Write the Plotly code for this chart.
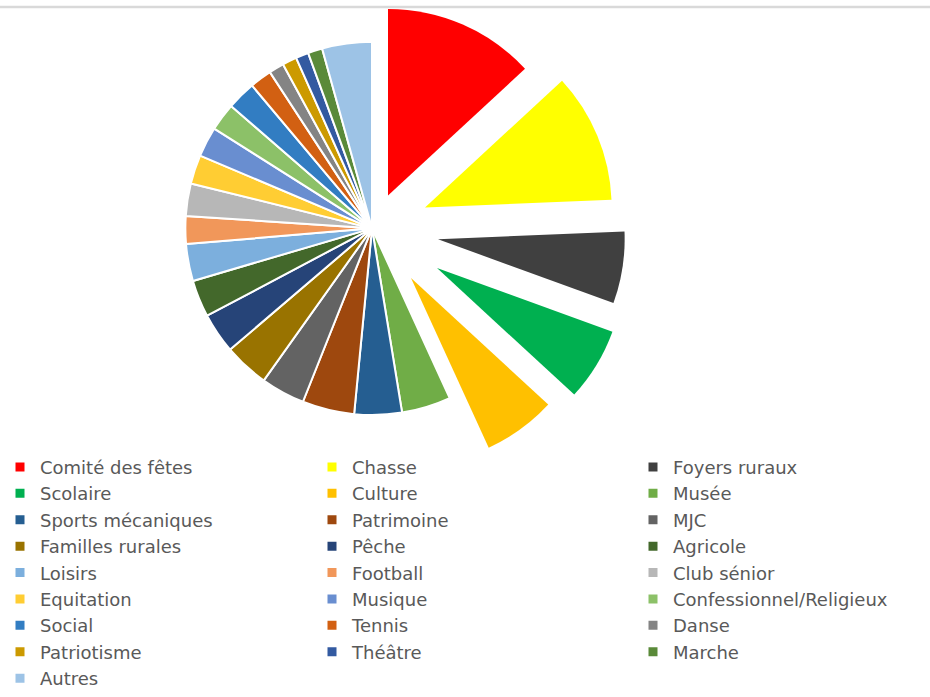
import plotly.graph_objects as go

labels = [
    "Comité des fêtes", "Chasse", "Foyers ruraux", "Scolaire", "Culture",
    "Musée", "Sports mécaniques", "Patrimoine", "MJC", "Familles rurales",
    "Pêche", "Agricole", "Loisirs", "Football", "Club sénior", "Equitation",
    "Musique", "Confessionnel/Religieux", "Social", "Tennis", "Danse",
    "Patriotisme", "Théâtre", "Marche", "Autres",
]
values = [
    13.1, 11.2, 6.2, 6.3, 6.3,
    4.25, 4.1, 4.5, 3.8, 3.9,
    3.5, 3.2, 3.2, 2.4, 2.8, 2.5,
    2.6, 2.4, 2.5, 1.9, 1.3,
    1.25, 1.1, 1.25, 4.3,
]
colors = [
    "#FF0000", "#FFFF00", "#404040", "#00B050", "#FFC000",
    "#70AD47", "#255E91", "#9E480E", "#636363", "#997300",
    "#264478", "#43682B", "#7CAFDD", "#F1975A", "#B7B7B7", "#FFCD33",
    "#698ED0", "#8CC168", "#327DC2", "#D26012", "#848484",
    "#CC9A00", "#335AA1", "#5A8A39", "#9DC3E6",
]

# exploded slices: index -> pixel centre of the pulled-out wedge
W, H = 930, 697
R = 188
CENTER = (372, 230)
exploded = {0: (388, 197), 1: (425, 209), 2: (438, 241), 3: (437, 270), 4: (411, 280)}


def domain(cx, cy):
    return dict(x=[(cx - R) / W, (cx + R) / W], y=[(H - cy - R) / H, (H - cy + R) / H])


clear = "rgba(0,0,0,0)"
n = len(labels)
fig = go.Figure()

# pie body (exploded slices left empty here)
fig.add_trace(go.Pie(
    labels=labels, values=values, sort=False, direction="clockwise", rotation=0,
    marker=dict(colors=[clear if i in exploded else colors[i] for i in range(n)],
                line=dict(color="white", width=[0 if i in exploded else 2 for i in range(n)])),
    textinfo="none", domain=domain(*CENTER), showlegend=False,
))

# the pulled-out wedges
for idx, (cx, cy) in exploded.items():
    fig.add_trace(go.Pie(
        labels=labels, values=values, sort=False, direction="clockwise",
        marker=dict(colors=[colors[i] if i == idx else clear for i in range(n)],
                    line=dict(width=0)),
        textinfo="none", hoverinfo="label+value", domain=domain(cx, cy), showlegend=False,
    ))

# legend: three columns, filled row by row like excel
legend_x = [0, 312, 633]
for k in range(3):
    name = "legend" if k == 0 else f"legend{k + 1}"
    fig.add_trace(go.Pie(
        labels=labels[k::3], values=values[k::3], sort=False,
        marker=dict(colors=colors[k::3], line=dict(color="white", width=3)),
        textinfo="none", hoverinfo="skip", legend=name,
        domain=dict(x=[0.998, 1], y=[0, 0.001]),
    ))
    fig.update_layout({name: dict(
        orientation="v", x=legend_x[k] / W, y=(H - 452) / H, xanchor="left", yanchor="top",
        font=dict(family="DejaVu Sans", size=18, color="#595959"),
        bgcolor="rgba(0,0,0,0)", traceorder="normal",
    )})

fig.update_layout(
    width=W, height=H,
    margin=dict(l=0, r=0, t=0, b=0),
    paper_bgcolor="white",
    font=dict(family="DejaVu Sans", size=18, color="#595959"),
    shapes=[dict(type="line", xref="paper", yref="paper", x0=0, x1=1,
                 y0=(H - 7) / H, y1=(H - 7) / H, line=dict(color="#D9D9D9", width=2.5))],
)

fig.write_html("out.html", config={"displayModeBar": False},
               post_script="document.body.style.margin = '0';")
